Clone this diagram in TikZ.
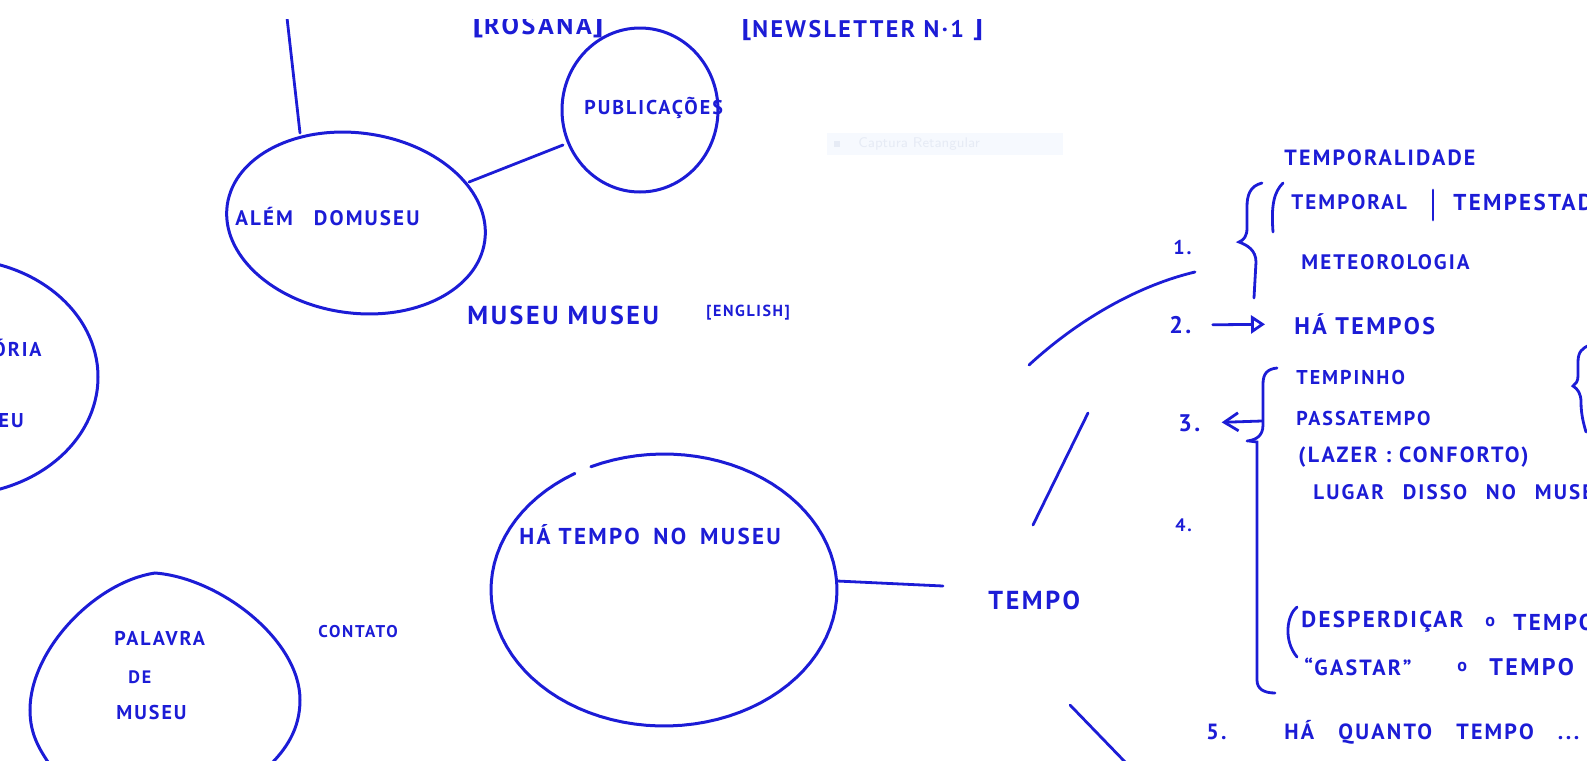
\documentclass[tikz,border=0pt]{standalone}
\usepackage{fontspec}
\setmainfont{PT Sans}[LetterSpace=10]
\newfontfamily\symfont{DejaVu Sans}
\usetikzlibrary{arrows.meta}
\definecolor{ink}{RGB}{28,28,214}
\definecolor{snapbg}{RGB}{246,249,254}
\definecolor{snaptx}{RGB}{230,235,245}
\newcommand{\pen}[1]{\fontsize{#1}{#1}\selectfont\bfseries}

\begin{document}
\begin{tikzpicture}[x=0.5pt, y=-0.5pt, color=ink, line width=1.4pt, line cap=round,
		hw/.style={inner sep=0pt, anchor=west},
		blob/.style={line width=1.5pt}]
		\useasboundingbox (0,0) rectangle (1587,761);
		\clip (0,19) rectangle (1587,761);
%		
		% faint screen capture box
		\fill[snapbg] (827,133) rectangle (1063,155);
		\fill[snaptx] (834,141) rectangle (840,147);
		\node[hw, text=snaptx, font=\sffamily\fontsize{7}{7}\selectfont] (snap) at (857,144) {Captura Retangular};
		%%%%%%%%%%%%%%%%%%% top labels
		\node[anchor=base, inner sep=0pt, font=\pen{13}] (rosana) at (538,34) {{\symfont ⌊}ROSANA{\symfont ⌋}};
		\node[anchor=base west, inner sep=0pt, font=\pen{12}] (news) at (740,37) {{\symfont ⌊}NEWSLETTER N·1 {\symfont ⌋}};
		%%%%%%%%%%%%%%%%%%% alem do museu
		\draw[blob, rotate around={-8:(356,223)}] (356,223) ellipse [x radius=65pt, y radius=45pt];
		\node[hw, font=\pen{10.5}] (alem) at (234,217) {ALÉM\hspace{1em}DOMUSEU};
		\coordinate (alemtop) at (300,133);
		\coordinate (edgetop) at (285,0);
		\draw (alemtop) -- (edgetop); % to the cut edge
		\coordinate (alemne) at (469,182);
		\coordinate (pubsw) at (563,145);
		\draw (alemne) -- (pubsw);
		%%%%%%%%%%%%%%%%%%% publicacoes
		\draw[blob] (640,110) ellipse [x radius=39pt, y radius=41pt];
		\node[hw, font=\pen{10}] (pub) at (583,108) {PUBLICAÇÕES};
		\node[hw, font=\pen{13}] (mm) at (466,315) {MUSEU MUSEU};
		\node[hw, font=\pen{8}] (eng) at (705,313) {[ENGLISH]};
		%%%%%%%%%%%%%%%%%%% left, cut by the edge
		\draw[blob] (-45,377) ellipse [x radius=71.5pt, y radius=59pt];
		\node[anchor=east, inner sep=0pt, font=\pen{10}] (hist) at (43,348) {HISTÓRIA};
		\node[anchor=east, inner sep=0pt, font=\pen{10}] (museua) at (25,420) {MUSEU};
		%%%%%%%%%%%%%%%%%%% palavra de museu
		\draw[blob] (50,765) .. controls (40,750) and (30,735) .. (30,710) .. controls (30,650) and (95,582) .. (155,573) .. controls (220,578) and (300,640) .. (300,700) .. controls (300,730) and (285,750) .. (270,765);
		\node[hw, font=\pen{10}] (palavra) at (113,638) {PALAVRA};
		\node[hw, font=\pen{9}] (de) at (127,677) {DE};
		\node[hw, font=\pen{10}] (museub) at (115,712) {MUSEU};
		\node[hw, font=\pen{8.5}] (contato) at (317,632) {CONTATO};
		%%%%%%%%%%%%%%%%%%% ha tempo no museu
		\draw[blob] plot[domain=245:599, samples=90] ({664+173*cos(\x)}, {590+136*sin(\x)});
		\node[hw, font=\pen{11.5}] (hatempo) at (518,535) {HÁ TEMPO\hspace{0.6em}NO\hspace{0.6em}MUSEU};
		\coordinate (hacx) at (837,581);
		\coordinate (tempol) at (943,586);
		\draw (hacx) -- (tempol);
		\node[hw, font=\pen{13}] (tempo) at (987,600) {TEMPO};
		% strokes towards the list
		\coordinate (ra) at (1029,365);
		\coordinate (rb) at (1195,272);
		\draw (ra) .. controls (1080,318) and (1140,285) .. (rb);
		\coordinate (sa) at (1088,413);
		\coordinate (sb) at (1033,525);
		\draw (sa) -- (sb);
		\coordinate (ta) at (1070,705);
		\coordinate (tb) at (1128,765);
		\draw (ta) -- (tb);
		%%%%%%%%%%%%%%%%%%% list
		\node[hw, font=\pen{10}] (n1) at (1172,247) {1.};
		\node[hw, font=\pen{12}] (n2) at (1168,325) {2.};
		\node[hw, font=\pen{12}] (n3) at (1177,423) {3.};
		\node[hw, font=\pen{9}] (n4) at (1174,525) {4.};
		\node[hw, font=\pen{11}] (n5) at (1205,732) {5.};
		% 1.
		\draw (1262,183) .. controls (1250,186) and (1247,195) .. (1247,207) -- (1247,228) .. controls (1247,236) and (1244,240) .. (1239,242) .. controls (1247,245) and (1256,250) .. (1256,262) -- (1254,298);
		\node[hw, font=\pen{11}] (tpdade) at (1283,158) {TEMPORALIDADE};
		\draw (1283,183) .. controls (1274,192) and (1271,205) .. (1273,232); % paren
		\node[hw, font=\pen{10.5}] (temporal) at (1290,202) {TEMPORAL};
		\draw (1433,190) -- (1433,220);
		\node[hw, font=\pen{11.5}] (tempest) at (1452,202) {TEMPESTADE};
		\node[hw, font=\pen{10.5}] (meteo) at (1300,262) {METEOROLOGIA};
		% 2.
		\node[hw, font=\pen{12}] (hatempos) at (1293,324) {HÁ TEMPOS};
		\draw[-{Triangle[open, length=7pt, width=9pt]}, shorten <=10pt, shorten >=14pt] (n2.east) -- (hatempos.west);
		% 3. and 4.
		\draw (1277,368) .. controls (1267,369) and (1263,374) .. (1263,384) -- (1263,425) .. controls (1263,436) and (1256,440) .. (1247,441);
		\draw (1249,441) -- (1257,442) -- (1257,680) .. controls (1257,689) and (1264,693) .. (1275,693);
		\coordinate (bthree) at (1262,421);
		\draw[-{Straight Barb[length=7pt, width=9pt]}, shorten >=10pt] (bthree) -- (n3.east);
		\node[hw, font=\pen{10}] (tempinho) at (1295,377) {TEMPINHO};
		\node[hw, font=\pen{10}] (passa) at (1295,418) {PASSATEMPO};
		\node[hw, font=\pen{11}] (lazer) at (1297,457) {(LAZER : CONFORTO)};
		\node[hw, font=\pen{10.5}] (lugar) at (1312,492) {LUGAR\hspace{0.9em}DISSO\hspace{0.9em}NO\hspace{0.9em}MUSEU};
		\draw (1590,345) .. controls (1582,348) and (1578,352) .. (1578,362) -- (1578,376) .. controls (1578,381) and (1576,384) .. (1573,386) .. controls (1578,389) and (1581,394) .. (1581,402) .. controls (1581,415) and (1584,425) .. (1586,432);
		\draw (1297,607) .. controls (1287,615) and (1283,640) .. (1297,657); % paren
		\node[hw, font=\pen{11.5}] (desperd) at (1300,622) {DESPERDIÇAR};
		\node[hw, font=\pen{9}] (oa) at (1484,622) {o};
		\node[hw, font=\pen{11.5}] (tempoa) at (1512,622) {TEMPO};
		\node[hw, font=\pen{11}] (gastar) at (1303,667) {“GASTAR”};
		\node[hw, font=\pen{9}] (ob) at (1456,667) {o};
		\node[hw, font=\pen{12}] (tempob) at (1488,667) {TEMPO};
		% 5.
		\node[hw, font=\pen{11}] (haquanto) at (1283,732) {HÁ\hspace{1.1em}QUANTO\hspace{1.1em}TEMPO\hspace{1.1em}...};
		
\end{tikzpicture}
\end{document}
